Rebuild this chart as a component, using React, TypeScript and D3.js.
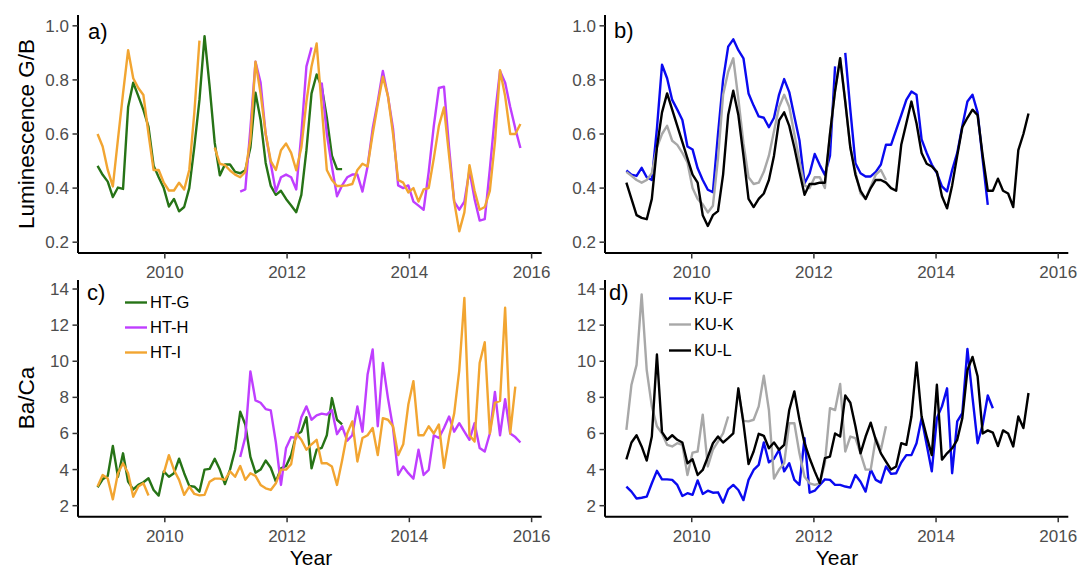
import React from 'react';
import * as d3 from 'd3';

const NA = NaN;
// monthly sampling; first sample dates (decimal years)
const HT_START = 2008.9;
const KU_START = 2008.93;

const yearTicks = [2010, 2012, 2014, 2016];
const lumTicks = [0.2, 0.4, 0.6, 0.8, 1.0];
const baTicks = [2, 4, 6, 8, 10, 12, 14];

// ---- Luminescence G/B, HT corals (panel a) ----
const lumHTG = [0.482,0.449,0.424,0.367,0.402,0.397,0.70,0.79,0.74,0.689,0.626,0.483,0.44,0.40,0.332,0.36,0.314,0.33,0.40,0.553,0.726,0.962,0.775,0.567,0.447,0.487,0.487,0.46,0.455,0.466,0.55,0.753,0.652,0.493,0.408,0.375,0.39,0.36,0.336,0.311,0.375,0.54,0.75,0.82,0.775,0.66,0.52,0.47,0.47];
const lumHTH = [0.387,0.395,0.62,0.867,0.79,0.6,0.49,0.387,0.44,0.45,0.44,0.395,0.6,0.85,0.92,NA,0.79,0.6,0.48,0.37,0.41,0.44,0.45,0.45,0.387,0.48,0.62,0.72,0.833,0.74,0.62,0.41,0.40,0.41,0.35,0.335,0.32,0.46,0.63,0.77,0.775,0.55,0.35,0.32,0.35,0.465,0.36,0.28,0.285,0.47,0.67,0.833,0.79,0.7,0.62,0.548];
const lumHTI = [0.60,0.554,0.467,0.406,0.58,0.75,0.91,0.806,0.77,0.744,0.60,0.467,0.467,0.42,0.391,0.391,0.42,0.395,0.467,0.68,0.945,NA,NA,0.55,0.49,0.485,0.465,0.45,0.44,0.46,0.58,0.867,0.75,0.6,0.5,0.467,0.54,0.565,0.53,0.466,0.55,0.72,0.85,0.935,0.7,0.467,0.43,0.408,0.408,0.41,0.415,0.467,0.49,0.48,0.6,0.71,0.812,0.74,0.6,0.43,0.42,0.384,0.40,0.35,0.395,0.40,0.51,0.63,0.698,0.52,0.35,0.24,0.31,0.485,0.39,0.32,0.33,0.39,0.57,0.836,0.74,0.6,0.6,0.637];

// ---- Luminescence G/B, KU corals (panel b) ----
const lumKUF = [0.465,0.45,0.445,0.475,0.44,0.43,0.62,0.856,0.806,0.726,0.69,0.652,0.554,0.543,0.473,0.43,0.394,0.385,0.60,0.80,0.923,0.95,0.91,0.88,0.75,0.705,0.665,0.66,0.625,0.66,0.746,0.803,0.755,0.665,0.577,0.418,0.454,0.526,0.485,0.449,0.52,0.85,NA,0.90,0.689,0.492,0.455,0.443,0.443,0.46,0.487,0.56,0.56,0.615,0.67,0.726,0.757,0.745,0.58,0.53,0.487,0.455,0.406,0.388,0.467,0.53,0.63,0.72,0.745,0.68,0.505,0.338];
const lumKUK = [0.46,0.445,0.43,0.42,0.43,0.455,0.55,0.60,0.63,0.575,0.56,0.53,0.495,0.40,0.36,0.34,0.31,0.335,0.51,0.745,0.83,0.88,0.73,0.565,0.44,0.415,0.42,0.46,0.52,0.61,0.70,0.745,0.70,0.6,0.5,0.41,0.40,0.44,0.44,0.40,0.6,0.76,0.88,0.72,0.55,0.46,0.38,0.36,0.405,0.45,0.467,0.43];
const lumKUL = [0.42,0.36,0.30,0.29,0.285,0.36,0.55,0.68,0.75,0.69,0.63,0.57,0.51,0.45,0.42,0.30,0.26,0.30,0.315,0.45,0.67,0.76,0.67,0.52,0.36,0.33,0.36,0.38,0.43,0.52,0.65,0.68,0.63,0.55,0.46,0.375,0.415,0.415,0.42,0.42,0.6,0.76,0.88,0.72,0.55,0.45,0.39,0.36,0.40,0.43,0.43,0.42,0.40,0.39,0.56,0.64,0.72,0.64,0.53,0.49,0.48,0.46,0.37,0.325,0.41,0.52,0.625,0.66,0.69,0.67,0.52,0.39,0.39,0.435,0.39,0.38,0.33,0.54,0.6,0.676];

// ---- Ba/Ca, HT corals (panel c) ----
const baHTG = [3.02,3.46,3.65,5.31,3.6,4.9,3.33,2.9,3.15,3.3,3.52,2.87,2.56,3.9,3.6,3.8,4.6,3.8,3.1,3.05,2.78,4.0,4.04,4.6,4.0,3.2,4.0,5.1,7.2,6.5,4.7,3.83,4.0,4.5,4.1,3.33,4.07,4.2,4.8,5.93,6.1,6.9,4.07,5.1,5.2,5.9,7.96,6.76,6.5];
const baHTH = [4.7,5.8,9.44,7.83,7.7,7.35,7.28,5.5,3.15,5.2,5.8,5.75,6.9,7.5,6.76,7.0,7.1,7.04,7.3,5.96,6.4,5.6,5.9,7.5,6.1,9.26,10.65,6.4,9.9,7.96,6.3,3.7,4.17,3.8,3.5,5.1,3.7,3.98,5.9,5.75,6.3,6.94,6.1,6.57,6.1,5.65,6.57,5.2,5.0,6.0,8.3,5.9,7.9,6.0,5.8,5.5];
const baHTI = [3.06,3.7,3.5,2.35,3.8,4.35,3.8,2.5,3.06,3.24,2.56,NA,NA,3.8,4.8,3.98,3.43,2.6,3.06,2.65,2.57,2.6,3.33,3.5,3.5,3.43,3.9,3.6,4.2,3.43,3.8,3.65,3.15,2.96,2.87,3.24,4.0,4.0,4.3,6.0,5.65,5.1,5.4,5.65,4.35,4.35,4.17,3.15,4.5,6.0,6.67,4.45,5.75,5.9,6.3,4.8,6.85,6.76,6.4,4.8,5.4,7.6,8.9,5.9,5.9,6.4,6.0,6.5,4.1,5.8,7.1,9.5,13.5,5.9,5.55,9.9,11.05,6.0,7.7,7.8,12.96,6.0,8.6];

// ---- Ba/Ca, KU corals (panel d) ----
const baKUF = [3.06,2.78,2.4,2.44,2.5,3.24,3.93,3.46,3.46,3.43,3.15,2.54,2.69,2.6,3.4,2.65,2.83,2.72,2.74,2.17,2.9,3.15,2.87,2.31,3.43,3.98,4.26,5.5,4.4,4.6,5.1,3.9,4.35,3.43,3.15,5.74,2.72,2.83,3.15,3.46,3.43,3.15,3.15,3.06,3.0,3.7,3.33,2.78,4.0,3.43,3.28,4.17,3.76,3.8,4.39,4.8,4.8,5.46,6.85,5.37,3.9,6.85,7.5,8.5,3.8,6.67,7.13,10.68,8.0,5.46,6.5,8.1,7.4];
const baKUK = [6.2,8.7,9.8,13.7,9.5,7.5,6.4,6.0,5.37,5.28,5.46,5.37,3.7,4.94,5.0,7.04,4.17,5.1,5.55,6.0,6.94,NA,8.3,6.7,6.67,6.76,7.5,9.2,7.3,3.5,4.0,4.35,6.57,6.57,4.9,3.6,3.24,3.15,3.24,4.35,7.4,7.3,8.74,5.0,5.83,5.74,4.9,4.0,4.0,5.74,5.1,6.4];
const baKUL = [4.57,5.5,5.9,5.28,4.5,5.83,10.37,6.07,5.65,5.9,5.65,5.5,4.35,4.57,3.7,3.98,4.7,5.46,5.83,5.5,5.74,6.0,8.5,6.57,4.3,5.0,5.98,5.87,5.18,5.5,5.1,5.37,7.3,8.33,6.76,5.46,4.63,3.9,3.24,4.63,4.72,6.0,5.83,8.1,7.7,6.4,4.9,5.83,6.6,5.65,4.9,4.44,4.0,4.17,5.46,5.37,6.94,9.94,6.94,5.83,4.8,8.7,4.55,4.9,5.18,5.65,6.85,9.5,10.24,9.17,6.0,6.17,6.05,5.3,6.17,6.0,5.28,6.94,6.3,8.24];

const htNames = ['HT-G', 'HT-H', 'HT-I'];
const kuNames = ['KU-F', 'KU-K', 'KU-L'];
const htColors = ['#267316', '#BF3EFF', '#F2A531'];
const kuColors = ['#0A0AF0', '#A8A8A8', '#000000'];
// month offset of each series' first sample
const htOffsets = [0, 28, 0];
const kuOffsets = [0, 0, 0];

type Pt = { t: number; v: number };
type Series = { name: string; color: string; pts: Pt[] };

function build(values: number[], start: number, offset: number): Pt[] {
  return values.map((v, i) => ({ t: start + (offset + i) / 12, v }));
}

function makeSeries(vals: number[][], names: string[], colors: string[], start: number, offsets: number[]): Series[] {
  return vals.map((v, i) => ({ name: names[i], color: colors[i], pts: build(v, start, offsets[i]) }));
}

const X_DOMAIN: [number, number] = [2008.58, 2016.165];
const LUM_DOMAIN: [number, number] = [0.16, 1.04];
const BA_DOMAIN: [number, number] = [1.39, 14.5];

const FONT = '"Liberation Sans", Arial, Helvetica, sans-serif';

type PanelProps = {
  x0: number; x1: number; y0: number; y1: number;
  yDomain: [number, number]; yTicks: number[]; fmt: (n: number) => string;
  series: Series[]; tag: string; tagX: number; tagY: number;
  legend?: { x: number; y: number; gap: number };
};

function Panel(p: PanelProps) {
  const xs = d3.scaleLinear().domain(X_DOMAIN).range([p.x0, p.x1]);
  const ys = d3.scaleLinear().domain(p.yDomain).range([p.y1, p.y0]);
  const line = d3.line<Pt>().defined(d => !isNaN(d.v)).x(d => xs(d.t)).y(d => ys(d.v));
  return (
    <g>
      {p.series.map(s => (
        <path key={s.name} d={line(s.pts) || ''} fill="none" stroke={s.color} strokeWidth={2.4} strokeLinejoin="round" />
      ))}
      <line x1={p.x0} x2={p.x1} y1={p.y1} y2={p.y1} stroke="#000" strokeWidth={2} />
      <line x1={p.x0} x2={p.x0} y1={p.y0} y2={p.y1} stroke="#000" strokeWidth={2} />
      {yearTicks.map(t => (
        <g key={t}>
          <line x1={xs(t)} x2={xs(t)} y1={p.y1} y2={p.y1 + 5.5} stroke="#333" strokeWidth={1.5} />
          <text x={xs(t)} y={p.y1 + 25} textAnchor="middle" fontSize={17} fill="#4D4D4D" fontFamily={FONT}>{t}</text>
        </g>
      ))}
      {p.yTicks.map(t => (
        <g key={t}>
          <line x1={p.x0 - 5.5} x2={p.x0} y1={ys(t)} y2={ys(t)} stroke="#333" strokeWidth={1.5} />
          <text x={p.x0 - 9} y={ys(t)} dy="0.35em" textAnchor="end" fontSize={17} fill="#4D4D4D" fontFamily={FONT}>{p.fmt(t)}</text>
        </g>
      ))}
      <text x={p.tagX} y={p.tagY} fontSize={22} fill="#000" fontFamily={FONT}>{p.tag}</text>
      {p.legend && p.series.map((s, i) => (
        <g key={'lg' + s.name}>
          <line x1={p.legend!.x} x2={p.legend!.x + 22} y1={p.legend!.y + i * p.legend!.gap} y2={p.legend!.y + i * p.legend!.gap} stroke={s.color} strokeWidth={2.4} />
          <text x={p.legend!.x + 25} y={p.legend!.y + i * p.legend!.gap} dy="0.36em" fontSize={16.5} fill="#000" fontFamily={FONT}>{s.name}</text>
        </g>
      ))}
    </g>
  );
}

export default function App() {
  const lumHT = makeSeries([lumHTG, lumHTH, lumHTI], htNames, htColors, HT_START, htOffsets);
  const lumKU = makeSeries([lumKUF, lumKUK, lumKUL], kuNames, kuColors, KU_START, kuOffsets);
  const baHT = makeSeries([baHTG, baHTH, baHTI], htNames, htColors, HT_START, htOffsets);
  const baKU = makeSeries([baKUF, baKUK, baKUL], kuNames, kuColors, KU_START, kuOffsets);
  const f1 = d3.format('.1f');
  const f0 = d3.format('d');
  return (
    <svg width={1084} height={573} style={{ position: 'absolute', left: 0, top: 0, background: '#fff' }}>
      <rect width={1084} height={573} fill="#fff" />
      <Panel x0={78} x1={541.7} y0={15} y1={253} yDomain={LUM_DOMAIN} yTicks={lumTicks} fmt={f1}
        series={lumHT} tag="a)" tagX={88} tagY={39} />
      <Panel x0={605} x1={1068.3} y0={15} y1={253} yDomain={LUM_DOMAIN} yTicks={lumTicks} fmt={f1}
        series={lumKU} tag="b)" tagX={614} tagY={38} />
      <Panel x0={78} x1={541.7} y0={280} y1={516.7} yDomain={BA_DOMAIN} yTicks={baTicks} fmt={f0}
        series={baHT} tag="c)" tagX={87} tagY={300} legend={{ x: 125, y: 302.5, gap: 25 }} />
      <Panel x0={605} x1={1068.3} y0={280} y1={516.7} yDomain={BA_DOMAIN} yTicks={baTicks} fmt={f0}
        series={baKU} tag="d)" tagX={609} tagY={300} legend={{ x: 669, y: 298.5, gap: 26 }} />
      <text transform="translate(34,134) rotate(-90)" textAnchor="middle" fontSize={22.5} fill="#000" fontFamily={FONT}>Luminescence G/B</text>
      <text transform="translate(34,398) rotate(-90)" textAnchor="middle" fontSize={22.5} fill="#000" fontFamily={FONT}>Ba/Ca</text>
      <text x={311} y={565} textAnchor="middle" fontSize={21} fill="#000" fontFamily={FONT}>Year</text>
      <text x={837} y={565} textAnchor="middle" fontSize={21} fill="#000" fontFamily={FONT}>Year</text>
    </svg>
  );
}
